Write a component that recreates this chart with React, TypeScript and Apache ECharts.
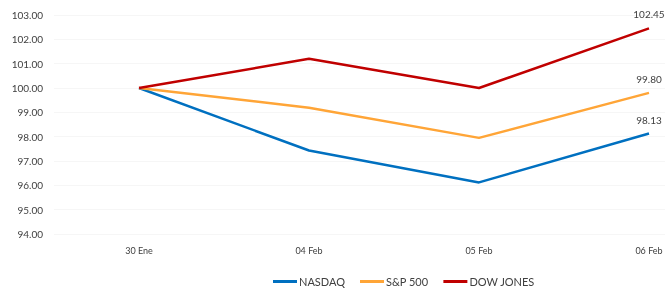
import React, { useEffect, useRef } from "react";
import * as echarts from "echarts";

const categories = ["30 Ene", "04 Feb", "05 Feb", "06 Feb"];
const nasdaq = [100.0, 97.43, 96.12, 98.13];
const sp500 = [100.0, 99.19, 97.95, 99.8];
const dowJones = [100.0, 101.2, 100.0, 102.45];
const seriesNames = ["NASDAQ", "S&P 500", "DOW JONES"];
const colors = ["#0070C0", "#FFA537", "#C00000"];

const FONT = "Lato";

export default function App() {
  const ref = useRef<HTMLDivElement>(null);
  useEffect(() => {
    const chart = echarts.init(ref.current!, null, { renderer: "svg" });
    const datasets = [nasdaq, sp500, dowJones];
    chart.setOption({
      animation: false,
      textStyle: { fontFamily: FONT },
      grid: { left: 54, top: 15, height: 219, width: 680, outerBoundsMode: "none", containLabel: false },
      legend: {
        top: 276,
        left: 273,
        icon: "rect",
        itemWidth: 24,
        itemHeight: 3,
        itemGap: 15,
        padding: 0,
        textStyle: { fontFamily: FONT, fontSize: 11, color: "#404040", padding: [0, 0, 0, -3] },
        data: seriesNames,
      },
      xAxis: {
        type: "category",
        data: categories,
        boundaryGap: true,
        axisLine: { show: false },
        axisTick: { show: false },
        axisLabel: { fontFamily: FONT, fontSize: 9, color: "#404040", margin: 12 },
      },
      yAxis: {
        type: "value",
        min: 94,
        max: 103,
        interval: 1,
        axisLine: { show: false },
        axisTick: { show: false },
        axisLabel: {
          fontFamily: FONT,
          fontSize: 10,
          color: "#404040",
          margin: 11,
          formatter: (v: number) => v.toFixed(2),
        },
        splitLine: { lineStyle: { color: "#F6F6F6", width: 1 } },
      },
      series: datasets.map((d, i) => ({
        name: seriesNames[i],
        type: "line",
        data: d,
        symbol: "circle",
        symbolSize: 0,
        showSymbol: true,
        color: colors[i],
        lineStyle: { width: 2.5, color: colors[i] },
        label: {
          show: true,
          position: "top",
          distance: 9,
          fontFamily: FONT,
          fontSize: 10,
          color: "#404040",
          formatter: (p: any) => (p.dataIndex === d.length - 1 ? Number(p.value).toFixed(2) : ""),
        },
        z: 2 + i,
      })),
    });
    return () => chart.dispose();
  }, []);
  return (
    <div
      ref={ref}
      style={{ position: "fixed", left: 0, top: 0, width: 665, height: 293, overflow: "hidden" }}
    />
  );
}
